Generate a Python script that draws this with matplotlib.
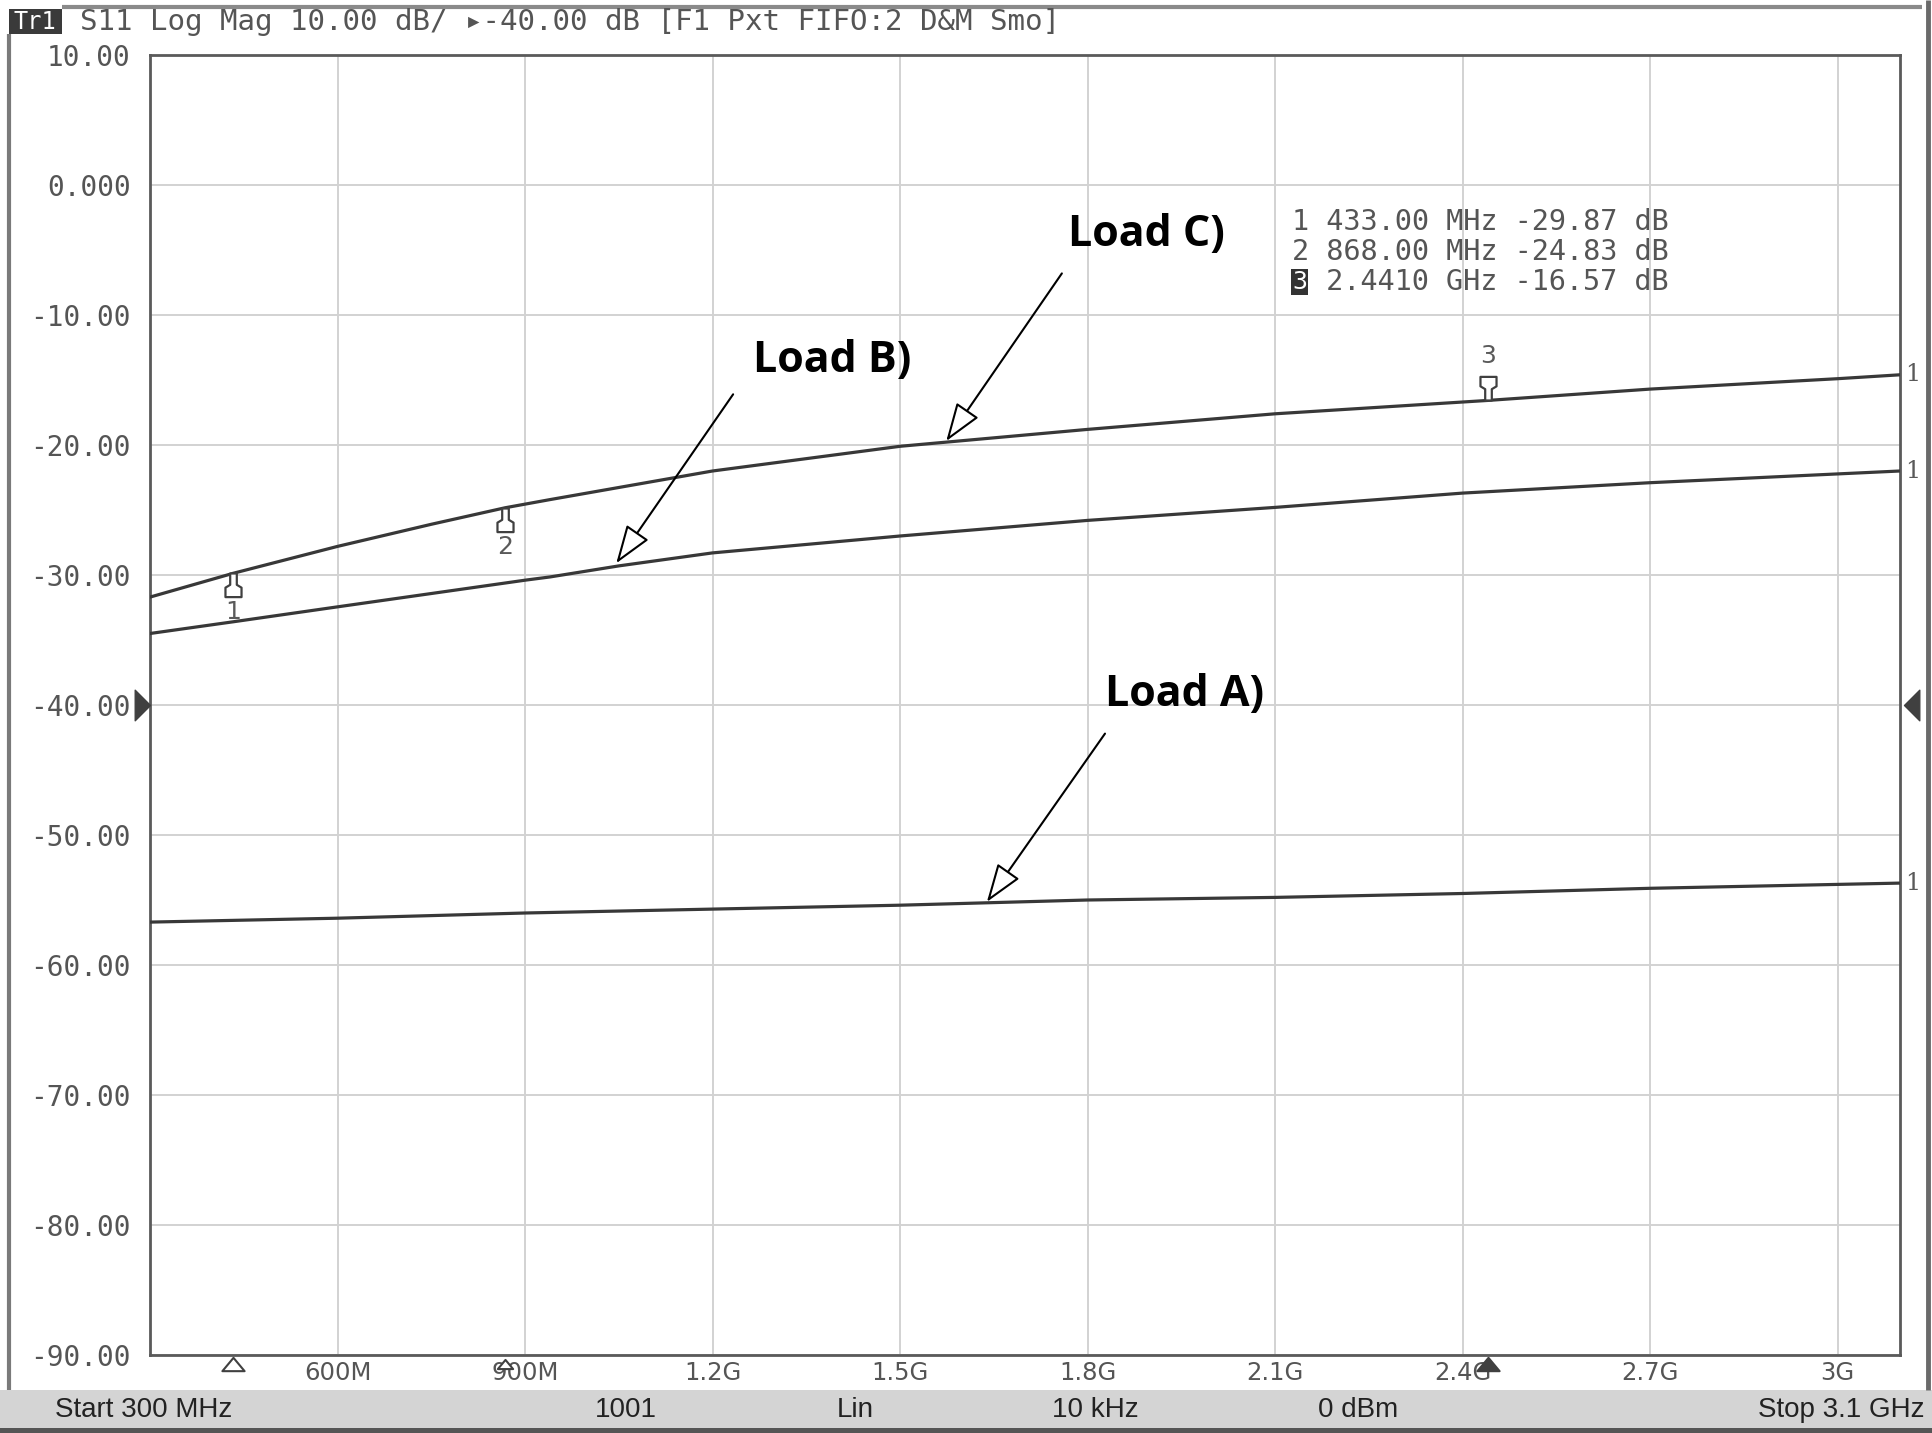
import matplotlib.pyplot as plt
from matplotlib.path import Path
from matplotlib.patches import Rectangle
import matplotlib.transforms as mtransforms

W, H = 1932, 1433

# traces (MHz, dB)
freq_c = [300, 433, 600, 750, 868, 940, 1200, 1500, 1800, 2100, 2441, 2700, 3000, 3100]
load_c = [-31.7, -29.87, -27.8, -26.1, -24.83, -24.2, -22.0, -20.1, -18.8, -17.6, -16.57, -15.7, -14.9, -14.6]

freq_b = [300, 433, 600, 900, 940, 1050, 1200, 1500, 1800, 2100, 2400, 2700, 3100]
load_b = [-34.5, -33.6, -32.45, -30.4, -30.15, -29.3, -28.3, -27.0, -25.8, -24.8, -23.7, -22.9, -22.0]

freq_a = [300, 600, 900, 1200, 1500, 1800, 2100, 2400, 2700, 3100]
load_a = [-56.7, -56.4, -56.0, -55.7, -55.4, -55.0, -54.8, -54.5, -54.1, -53.7]

# markers
mk_num = ['1', '2', '3']
mk_freq = [433, 868, 2441]
mk_db = [-29.87, -24.83, -16.57]
mk_freq_txt = ['433.00 MHz', '868.00 MHz', '2.4410 GHz']

xtick_vals = [600, 900, 1200, 1500, 1800, 2100, 2400, 2700, 3000]
xtick_labels = ['600M', '900M', '1.2G', '1.5G', '1.8G', '2.1G', '2.4G', '2.7G', '3G']
ytick_vals = [10, 0, -10, -20, -30, -40, -50, -60, -70, -80, -90]
ytick_labels = ['10.00', '0.000', '-10.00', '-20.00', '-30.00', '-40.00',
                '-50.00', '-60.00', '-70.00', '-80.00', '-90.00']

ref_level = -40
start_mhz, stop_mhz = 300, 3100

# label text, label position, arrow tail, arrow tip
callouts = [
    ('Load C)', (1894, -3.8), (1759, -6.8), (1574, -19.7)),
    ('Load B)', (1391, -13.5), (1233, -16.1), (1046, -29.1)),
    ('Load A)', (1956, -39.2), (1828, -42.2), (1639, -55.15)),
]

status_items = [('Start 300 MHz', 55, 'left'), ('1001', 626, 'center'), ('Lin', 855, 'center'),
                ('10 kHz', 1095, 'center'), ('0 dBm', 1358, 'center'), ('Stop 3.1 GHz', 1924, 'right')]

MONO = ['DejaVu Sans Mono', 'DejaVu Sans']
GRAY = '#555555'
TRACE = '#383838'

fig = plt.figure(figsize=(W / 100, H / 100), dpi=100)

# background layer in pixel coordinates for the instrument chrome
bg = fig.add_axes([0, 0, 1, 1], zorder=-1)
bg.set_xlim(0, W)
bg.set_ylim(H, 0)
bg.axis('off')
bg.plot([62, 1922], [7, 7], color='#8a8a8a', lw=3, solid_capstyle='butt')
bg.plot([9, 9], [34, 1390], color='#7a7a7a', lw=3, solid_capstyle='butt')
bg.plot([1928, 1928], [0, 1390], color='#6a6a6a', lw=3.5, solid_capstyle='butt')
bg.add_patch(Rectangle((0, 1390), W, 38, color='#d4d4d4', lw=0))
bg.add_patch(Rectangle((0, 1428), W, 5, color='#555555', lw=0))
bg.add_patch(Rectangle((9, 9), 53, 25, color='#3a3a3a', lw=0))
bg.text(35, 22, 'Tr1', color='white', fontsize=17, family=MONO, ha='center', va='center')
bg.text(80, 22, 'S11 Log Mag 10.00 dB/ \u25b8-40.00 dB [F1 Pxt FIFO:2 D&M Smo]',
        color=GRAY, fontsize=21, family=MONO, ha='left', va='center')
for txt, xp, ha in status_items:
    bg.text(xp, 1410, txt, fontsize=20, color='#222222', ha=ha, va='center',
            family=['Liberation Sans Narrow', 'Liberation Sans', 'DejaVu Sans'])

# main plot
ax = fig.add_axes([150 / W, 1 - 1355 / H, 1750 / W, 1300 / H])
ax.set_xlim(start_mhz, stop_mhz)
ax.set_ylim(-90, 10)
ax.grid(True, color='#d2d2d2', lw=1.4)
ax.set_axisbelow(True)
for sp in ax.spines.values():
    sp.set_color('#5a5a5a')
    sp.set_linewidth(2)

ax.set_xticks(xtick_vals)
ax.set_xticklabels(xtick_labels, fontsize=17.5, color=GRAY, family='DejaVu Sans')
ax.set_yticks(ytick_vals)
ax.set_yticklabels(ytick_labels, fontsize=20, color=GRAY, family=MONO)
ax.tick_params(axis='both', length=0)
ax.tick_params(axis='x', pad=4)
ax.tick_params(axis='y', pad=14)

ly = mtransforms.blended_transform_factory(ax.transAxes, ax.transData)
for f, v in [(freq_a, load_a), (freq_b, load_b), (freq_c, load_c)]:
    ax.plot(f, v, color=TRACE, lw=2.3, zorder=3)
    ax.text(1.003, v[-1], '1', transform=ly, ha='left', va='center', fontsize=17,
            color='#5a5a5a', family='DejaVu Serif', clip_on=False)

# marker glyphs: tip at the trace
body = [(-0.14, 0), (0.14, 0), (0.14, 0.48), (0.34, 0.6), (0.34, 1), (-0.34, 1), (-0.34, 0.6), (-0.14, 0.48), (-0.14, 0)]
down_mk = Path(body, closed=True)
up_mk = Path([(x, -y) for x, y in body], closed=True)
for n, f, v in zip(mk_num, mk_freq, mk_db):
    above = n == '3'
    ax.plot([f], [v], marker=down_mk if above else up_mk, ms=34, mfc='white', mec='#404040',
            mew=1.6, ls='none', zorder=4)
    ax.annotate(n, (f, v), xytext=(0, 32 if above else -28), textcoords='offset points',
                ha='center', va='center', fontsize=18, color='#5a5a5a', family='DejaVu Sans')

# marker indicators under the frequency axis
tri = Path([(0, 0.6), (-1, -0.6), (1, -0.6), (0, 0.6)], closed=True)
xb = mtransforms.blended_transform_factory(ax.transData, ax.transAxes)
for n, f in zip(mk_num, mk_freq):
    active = n == '3'
    ax.plot([f], [-0.007], transform=xb, marker=tri, ms=16 if n != '2' else 11,
            mfc='#404040' if active else 'white', mec='#404040', mew=1.5, clip_on=False, zorder=5)

# reference level arrows
ax.plot([0], [ref_level], transform=ly, marker=Path([(0, 0), (-1, 1), (-1, -1), (0, 0)], closed=True),
        ms=22, color='#404040', clip_on=False, zorder=5)
ax.plot([1.002], [ref_level], transform=ly, marker=Path([(0, 0), (1, 1), (1, -1), (0, 0)], closed=True),
        ms=22, color='#404040', clip_on=False, zorder=5)

# marker readout table (pixel positions, drawn above the plot area)
tx, ty0, dy, fs = 1292, 222, 30, 20.5
cw = fs * 100 / 72 * 0.602
for i, (n, ft, v) in enumerate(zip(mk_num, mk_freq_txt, mk_db)):
    line = f'{n} {ft} {v:.2f} dB'
    yp = ty0 + i * dy
    if n == '3':
        ax.text(tx, yp, n, fontsize=18, family=MONO, color='white', ha='left', va='center', zorder=10,
                transform=bg.transData, bbox=dict(boxstyle='square,pad=0.05', fc='#333333', ec='none'))
        ax.text(tx + cw, yp, line[1:], fontsize=fs, family=MONO, color=GRAY, ha='left', va='center',
                zorder=10, transform=bg.transData)
    else:
        ax.text(tx, yp, line, fontsize=fs, family=MONO, color=GRAY, ha='left', va='center',
                zorder=10, transform=bg.transData)

# callouts
for label, pos, tail, tip in callouts:
    ax.text(pos[0], pos[1], label, fontsize=31, fontweight='bold', family='Open Sans',
            ha='center', va='center', color='black', zorder=6)
    ax.annotate('', xy=tip, xytext=tail,
                arrowprops=dict(arrowstyle='-|>,head_length=1.2,head_width=0.42', mutation_scale=20,
                                fc='white', ec='black', lw=1.5, shrinkA=0, shrinkB=0), zorder=6)

fig.savefig('out.png', dpi=100, facecolor='white')
